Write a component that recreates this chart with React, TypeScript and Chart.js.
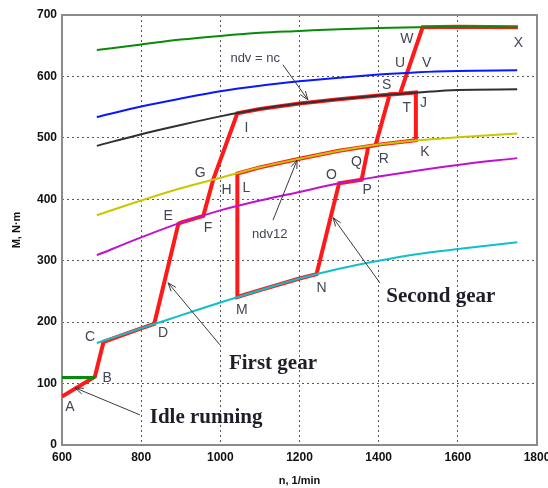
import React, { useEffect, useRef } from "react";
import { Chart, registerables } from "chart.js";

Chart.register(...registerables);

// engine speed grid for the characteristic curves (1/min)
const nGrid = [688, 800, 900, 1000, 1100, 1200, 1300, 1400, 1500, 1600, 1750];
const greenTop = [643, 652, 660, 666, 671, 674, 677, 679, 680, 681, 680];
const blueCurve = [534, 551, 564, 576, 585, 592, 598, 603, 607, 609, 610];
const blackCurve = [487, 506, 521, 535, 547, 556, 563, 569, 574, 578, 579];
const yellowCurve = [374, 398, 418, 435, 452, 466, 479, 489, 496, 501, 507];
const magentaCurve = [309, 338, 362, 382, 398, 412, 426, 437, 447, 456, 467];
const cyanCurve = [166, 190, 211, 232, 252, 271, 287, 300, 311, 319, 330];

// idle line
const idleN = [600, 683];
const idleM = [110, 110];

// operating path (red)
const redN = [600, 683, 705, 800, 833, 894, 900, 957, 982, 1043, 1100, 1200, 1300, 1400, 1494, 1494, 1400, 1300, 1200, 1100, 1043, 1043, 1100, 1200, 1243, 1300, 1357, 1374, 1392, 1428, 1454, 1511, 1600, 1752];
const redM = [79, 111, 168, 190, 197, 360, 362, 373, 432, 540, 547, 556, 563, 569, 574, 496, 489, 479, 466, 452, 442, 241, 252, 271, 278, 426, 432, 486, 488, 571, 572, 680, 681, 680];

// point letters
const letterText = ["A", "B", "C", "D", "E", "F", "G", "H", "L", "I", "M", "N", "O", "P", "Q", "R", "K", "T", "J", "S", "U", "V", "W", "X"];
const letterN = [620, 714, 671, 855, 868, 969, 949, 1016, 1066, 1066, 1054, 1256, 1281, 1371, 1344, 1413, 1517, 1471, 1513, 1420, 1454, 1521, 1471, 1753];
const letterM = [62, 109, 176, 182, 372, 353, 443, 415, 418, 516, 220, 256, 440, 415, 461, 465, 477, 548, 556, 586, 621, 621, 660, 654];

// annotation texts with arrows
const noteText = ["ndv = nc", "ndv12", "First gear", "Second gear", "Idle running"];
const noteBold = [false, false, true, true, true];
const noteN = [1088, 1125, 1133, 1557, 964];
const noteM = [630, 342, 133, 241, 44];
const arrowFromN = [1158, 1133, 999, 1403, 797];
const arrowFromM = [619, 366, 163, 264, 49];
const arrowToN = [1221, 1194, 868, 1285, 633];
const arrowToM = [562, 464, 264, 370, 93];

const xTicks = [600, 800, 1000, 1200, 1400, 1600, 1800];

const toPts = (xs: number[], ys: number[]) => xs.map((x, i) => ({ x, y: ys[i] }));

const annotPlugin = {
  id: "annot",
  beforeDatasetsDraw(chart: any) {
    const { ctx, chartArea } = chart;
    ctx.save();
    ctx.strokeStyle = "#8a8a8a";
    ctx.lineWidth = 2;
    ctx.strokeRect(chartArea.left, chartArea.top, chartArea.right - chartArea.left, chartArea.bottom - chartArea.top);
    ctx.restore();
  },
  afterDatasetsDraw(chart: any) {
    const { ctx } = chart;
    const xs = chart.scales.x;
    const ys = chart.scales.y;
    ctx.save();
    ctx.textAlign = "center";
    ctx.textBaseline = "middle";
    ctx.fillStyle = "#404656";
    ctx.font = "14px 'Liberation Sans', Arial, sans-serif";
    letterText.forEach((t, i) => {
      ctx.fillText(t, xs.getPixelForValue(letterN[i]), ys.getPixelForValue(letterM[i]));
    });
    noteText.forEach((t, i) => {
      if (noteBold[i]) {
        ctx.font = "bold 21px 'Liberation Serif', 'Times New Roman', serif";
        ctx.fillStyle = "#1e1e2a";
      } else {
        ctx.font = "13px 'Liberation Sans', Arial, sans-serif";
        ctx.fillStyle = "#404656";
      }
      ctx.fillText(t, xs.getPixelForValue(noteN[i]), ys.getPixelForValue(noteM[i]));
      const x0 = xs.getPixelForValue(arrowFromN[i]);
      const y0 = ys.getPixelForValue(arrowFromM[i]);
      const x1 = xs.getPixelForValue(arrowToN[i]);
      const y1 = ys.getPixelForValue(arrowToM[i]);
      ctx.strokeStyle = "#3a3a3a";
      ctx.lineWidth = 1;
      ctx.beginPath();
      ctx.moveTo(x0, y0);
      ctx.lineTo(x1, y1);
      const a = Math.atan2(y1 - y0, x1 - x0);
      const L = 9;
      ctx.moveTo(x1 - L * Math.cos(a - 0.35), y1 - L * Math.sin(a - 0.35));
      ctx.lineTo(x1, y1);
      ctx.lineTo(x1 - L * Math.cos(a + 0.35), y1 - L * Math.sin(a + 0.35));
      ctx.stroke();
    });
    ctx.restore();
  },
};

export default function App() {
  const ref = useRef<HTMLCanvasElement>(null);
  useEffect(() => {
    if (!ref.current) return;
    const curve = (ys: number[], color: string) => ({
      data: toPts(nGrid, ys),
      borderColor: color,
      borderWidth: 2,
      showLine: true,
      pointRadius: 0,
      cubicInterpolationMode: "monotone" as const,
      order: 0,
    });
    const gridColor = (c: any) =>
      c.tick && (c.tick.value === c.scale.min || c.tick.value === c.scale.max) ? "rgba(0,0,0,0)" : "#5a5a5a";
    const tickFont = { size: 12, weight: "bold" as const, family: "'Liberation Sans', Arial, sans-serif" };
    const chart = new Chart(ref.current, {
      type: "scatter",
      data: {
        datasets: [
          curve(greenTop, "#0a8a0a"),
          curve(blueCurve, "#0a18ff"),
          curve(blackCurve, "#303030"),
          curve(yellowCurve, "#c8c800"),
          curve(magentaCurve, "#c010d0"),
          curve(cyanCurve, "#10c0c8"),
          {
            data: toPts(idleN, idleM),
            borderColor: "#0a8a0a",
            borderWidth: 3,
            showLine: true,
            pointRadius: 0,
            order: 0,
          },
          {
            data: toPts(redN, redM),
            borderColor: "#ff1a1a",
            borderWidth: 4,
            showLine: true,
            pointRadius: 0,
            tension: 0,
            order: 1,
          },
        ],
      },
      options: {
        animation: false,
        responsive: true,
        maintainAspectRatio: false,
        layout: { padding: { top: 15, right: 11, left: 0, bottom: 0 } },
        plugins: { legend: { display: false }, tooltip: { enabled: false } },
        scales: {
          x: {
            type: "linear",
            min: 600,
            max: 1800,
            afterFit: (s: any) => {
              s.height = 43;
              s.paddingLeft = 0;
              s.paddingRight = 0;
            },
            afterBuildTicks: (s: any) => {
              s.ticks = xTicks.map((v) => ({ value: v }));
            },
            ticks: {
              color: "#111",
              font: tickFont,
              padding: 5,
              callback: (v: any) => String(v),
            },
            grid: { color: gridColor, lineWidth: 1, drawTicks: false },
            border: { display: false, dash: [2, 3] },
            title: {
              display: true,
              text: "n, 1/min",
              color: "#111",
              font: { size: 11, weight: "bold", family: "'Liberation Sans', Arial, sans-serif" },
              padding: { top: 0, bottom: 0 },
            },
          },
          y: {
            type: "linear",
            min: 0,
            max: 700,
            afterFit: (s: any) => {
              s.width = 62;
              s.paddingTop = 0;
              s.paddingBottom = 0;
            },
            ticks: {
              stepSize: 100,
              color: "#111",
              font: tickFont,
              padding: 5,
              callback: (v: any) => String(v),
            },
            grid: { color: gridColor, lineWidth: 1, drawTicks: false },
            border: { display: false, dash: [2, 3] },
            title: {
              display: true,
              text: "M, N·m",
              color: "#111",
              font: { size: 11, weight: "bold", family: "'Liberation Sans', Arial, sans-serif" },
              padding: { top: 10, bottom: 0 },
            },
          },
        },
      },
      plugins: [annotPlugin],
    });
    return () => chart.destroy();
  }, []);
  return (
    <div style={{ position: "absolute", left: 0, top: 0, width: 548, height: 488, background: "#fff" }}>
      <canvas ref={ref} />
    </div>
  );
}
